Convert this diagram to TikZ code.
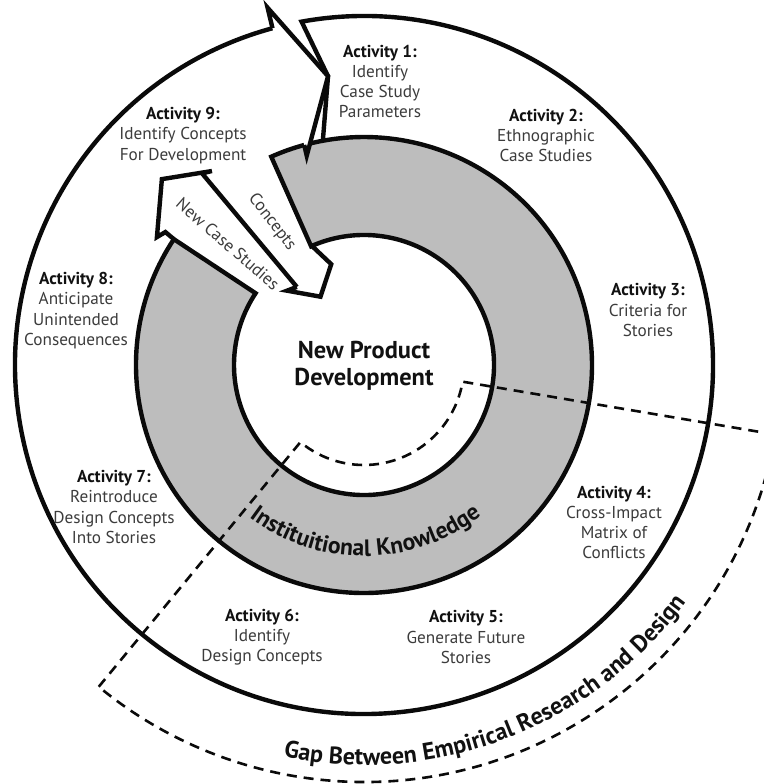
\documentclass[tikz,border=0pt]{standalone}
\usepackage{fontspec}
\setmainfont{PT Sans}
\setsansfont{PT Sans}
\usetikzlibrary{decorations.text}
\definecolor{RingInk}{HTML}{0A0A0A}
\definecolor{RingFill}{HTML}{BDBDBD}
\definecolor{ActInk}{HTML}{111111}
\definecolor{ActMute}{HTML}{3C3C3C}

\begin{document}
\begin{tikzpicture}[
  x=0.5pt, y=0.5pt,
  act/.style={
    align=center,
    inner sep=0pt,
    text=ActMute,
    font=\fontsize{8.6}{10.15}\selectfont,
  },
  band/.style={
    draw=RingInk,
    line width=2.2pt,
    line join=miter,
  },
  gapline/.style={
    draw=RingInk,
    line width=1.3pt,
    dash pattern=on 5pt off 3.5pt,
  },
]
  \useasboundingbox (-364,-419) rectangle (400,365);
  \clip (-364,-419) rectangle (400,365);
  \fill[white] (-364,-419) rectangle (400,365);

  % outer band: notched tail at the top, running clockwise
  \fill[white] (100.3:349) arc[start angle=100.3, end angle=-254.8, radius=349]
    -- (105.2:228) arc[start angle=105.2, end angle=460.4, radius=228]
    -- (97.1:291) -- cycle;

  % the two arrows through the gap of the ring
  \fill[white] (130.7:103) -- (130.2:251) -- (128.1:246.5) -- (137.4:274.6)
    -- (148.3:243.4) -- (146.2:239) -- (146.5:130) -- (136:107) -- cycle;
  \fill[white] (114:228) -- (114:132) -- (108:106) -- (122.5:81) -- (136:107)
    -- (130.7:103) -- (130.5:228) -- cycle;

  % institutional knowledge ring
  \filldraw[band, fill=RingFill] (146.5:130) -- (146.5:228)
    arc[start angle=146.5, end angle=474, radius=228] -- (474:130)
    arc[start angle=474, end angle=146.5, radius=130] -- cycle;

  \draw[band] (100.4:228) -- (97.1:291) -- (100.3:349)
    arc[start angle=100.3, end angle=-254.8, radius=349];
  \draw[band] (130.7:103) -- (130.2:251) -- (128.1:246.5) -- (137.4:274.6)
    -- (148.3:243.4) -- (146.2:239) -- (146.5:228);
  \draw[band] (114:132) -- (108:106) -- (122.5:81) -- (136:107) -- (130.7:103);

  % head of the outer band
  \filldraw[band, fill=white] (105.2:349) -- (105.1:370) -- (97.1:291)
    -- (105.3:217) -- (105.2:228);

  % gap wedge
  \draw[gapline] (-129.5:417) -- (-129.5:100)
    arc[start angle=-129.5, end angle=-9.6, radius=100] -- (-9.6:417)
    arc[start angle=-9.6, end angle=-129.5, radius=417];

  \node[act] (a1) at (16,283.5)
    {{\color{ActInk}\bfseries Activity 1:}\\Identify\\Case Study\\Parameters};
  \node[act] (a2) at (182,229.5)
    {{\color{ActInk}\bfseries Activity 2:}\\Ethnographic\\Case Studies};
  \node[act] (a3) at (284,55)
    {{\color{ActInk}\bfseries Activity 3:}\\Criteria for\\Stories};
  \node[act] (a4) at (250,-157.5)
    {{\color{ActInk}\bfseries Activity 4:}\\Cross-Impact\\Matrix of\\Conflicts};
  \node[act] (a5) at (102,-272)
    {{\color{ActInk}\bfseries Activity 5:}\\Generate Future\\Stories};
  \node[act] (a6) at (-102,-272)
    {{\color{ActInk}\bfseries Activity 6:}\\Identify\\Design Concepts};
  \node[act] (a7) at (-250,-142)
    {{\color{ActInk}\bfseries Activity 7:}\\Reintroduce\\Design Concepts\\Into Stories};
  \node[act] (a8) at (-288,54.5)
    {{\color{ActInk}\bfseries Activity 8:}\\Anticipate\\Unintended\\Consequences};
  \node[act] (a9) at (-181,229.5)
    {{\color{ActInk}\bfseries Activity 9:}\\Identify Concepts\\For Development};

  \node[act, rotate=-52] (cpt) at (-92,143) {Concepts};
  \node[act, rotate=-41] (ncs) at (-136,121) {New Case Studies};

  \node[align=center, inner sep=0pt, text=ActInk,
    font=\bfseries\fontsize{12.2}{13.4}\selectfont] (npd) at (0,-0.5)
    {New Product\\Development};

  \path[decorate, decoration={text along path, text align=center,
      text color=ActInk,
      text={|\bfseries\fontsize{11.8}{13}\selectfont|Instituitional Knowledge}}]
    (225:191) arc[start angle=225, end angle=316, radius=191];
  \path[decorate, decoration={text along path, text align=center,
      text color=ActInk,
      text={|\bfseries\fontsize{12}{13}\selectfont|Gap Between Empirical Research and Design}}]
    (248:400) arc[start angle=248, end angle=334, radius=400];
\end{tikzpicture}
\end{document}
